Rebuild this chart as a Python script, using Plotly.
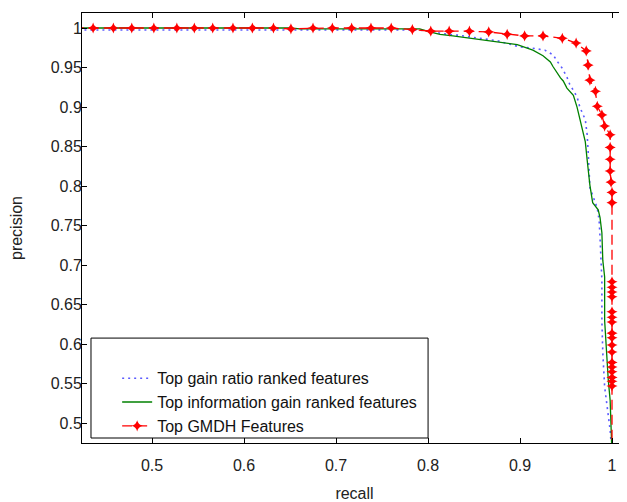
import plotly.graph_objects as go

# ---- data ----
gr_recall = [0.42, 0.791, 0.805, 0.821, 0.832, 0.846, 0.860, 0.875, 0.900, 0.911, 0.927, 0.936,
             0.941, 0.946, 0.951, 0.954, 0.962, 0.965, 0.971, 0.973, 0.974, 0.976, 0.984, 0.986,
             0.987, 0.988, 0.989, 0.989, 0.990, 0.992, 0.995, 0.998, 1.0]
gr_precision = [0.9975, 0.9975, 0.995, 0.992, 0.991, 0.989, 0.987, 0.984, 0.976, 0.975, 0.972, 0.966,
                0.957, 0.949, 0.938, 0.929, 0.913, 0.900, 0.884, 0.865, 0.846, 0.798, 0.772, 0.757,
                0.735, 0.703, 0.681, 0.630, 0.589, 0.546, 0.517, 0.491, 0.46]

ig_recall = [0.42, 0.65, 0.661, 0.77, 0.791, 0.802, 0.813, 0.827, 0.846, 0.864, 0.882, 0.897, 0.914,
             0.925, 0.933, 0.936, 0.944, 0.947, 0.951, 0.958, 0.962, 0.965, 0.969, 0.971, 0.973,
             0.976, 0.979, 0.985, 0.987, 0.989, 0.990, 0.992, 0.992, 0.995, 0.996, 0.998, 0.9995, 1.0]
ig_precision = [1.0, 1.0, 0.999, 0.999, 0.999, 0.995, 0.992, 0.990, 0.987, 0.985, 0.982, 0.979, 0.972,
                0.965, 0.957, 0.951, 0.937, 0.933, 0.924, 0.915, 0.900, 0.885, 0.866, 0.856, 0.833,
                0.801, 0.779, 0.770, 0.760, 0.741, 0.706, 0.685, 0.630, 0.571, 0.554, 0.529, 0.494, 0.46]

gmdh_recall = [0.415, 0.436, 0.458, 0.478, 0.502, 0.527, 0.546, 0.566, 0.588, 0.609, 0.632, 0.651,
               0.675, 0.696, 0.717, 0.738, 0.760, 0.783, 0.803, 0.823, 0.845, 0.866, 0.886, 0.905,
               0.925, 0.946, 0.961, 0.972, 0.974, 0.976, 0.982, 0.984, 0.989, 0.992, 0.998, 0.998,
               0.998, 0.998, 0.999, 1.0, 1.0,
               1.0, 1.0, 1.0, 1.0, 1.0, 1.0, 1.0, 1.0, 1.0, 1.0, 1.0, 1.0, 1.0, 1.0, 1.0, 1.0, 1.0,
               1.0]
gmdh_precision = [1.0, 1.0, 1.0, 1.0, 1.0, 1.0, 1.0, 1.0, 1.0, 1.0, 1.0, 0.999,
                  1.0, 1.0, 1.0, 1.0, 1.0, 0.998, 0.996, 0.996, 0.996, 0.995, 0.992, 0.990,
                  0.990, 0.987, 0.981, 0.971, 0.953, 0.934, 0.920, 0.901, 0.890, 0.876, 0.865, 0.849,
                  0.834, 0.819, 0.805, 0.792, 0.779,
                  0.679, 0.672, 0.666, 0.660, 0.641, 0.634, 0.628, 0.614, 0.608, 0.599, 0.590, 0.577,
                  0.571, 0.565, 0.558, 0.553, 0.547,
                  0.46]

x_ticks = [0.5, 0.6, 0.7, 0.8, 0.9, 1.0]
x_tick_labels = ["0.5", "0.6", "0.7", "0.8", "0.9", "1"]
y_ticks = [0.5, 0.55, 0.6, 0.65, 0.7, 0.75, 0.8, 0.85, 0.9, 0.95, 1.0]
y_tick_labels = ["0.5", "0.55", "0.6", "0.65", "0.7", "0.75", "0.8", "0.85", "0.9", "0.95", "1"]

FONT = "Liberation Sans, Arial, sans-serif"

fig = go.Figure()
fig.add_trace(go.Scatter(
    x=gr_recall, y=gr_precision, mode="lines", name="Top gain ratio ranked features",
    line=dict(color="#5a5aff", width=1.6, dash="2px,4px"), legendgroup="a"))
fig.add_trace(go.Scatter(
    x=ig_recall, y=ig_precision, mode="lines", name="Top information gain ranked features",
    line=dict(color="#008000", width=1.3), legendgroup="b"))
fig.add_trace(go.Scatter(
    x=gmdh_recall, y=gmdh_precision, mode="lines+markers", name="Top GMDH Features",
    line=dict(color="#ff0000", width=1.3, dash="10px,5px"),
    marker=dict(symbol="star-diamond", size=8, color="#ff0000"), legendgroup="c"))

# legend frame (box larger than the items, as in the reference)
fig.add_shape(type="rect", xref="paper", yref="paper", x0=0.0165, x1=0.635, y0=0.0116, y1=0.244,
              line=dict(color="black", width=1), fillcolor="white", layer="above")

axis_common = dict(showline=True, linecolor="black", linewidth=1, mirror="ticks",
                   ticks="inside", ticklen=5, tickcolor="black", showgrid=False, zeroline=False,
                   automargin=False, tickfont=dict(family=FONT, size=16, color="#222"))

# the page body adds an 8px offset, so the figure is 8px smaller than the window
fig.update_layout(
    width=619, height=494,
    margin=dict(l=74, r=0, t=5, b=59, autoexpand=False),
    paper_bgcolor="white", plot_bgcolor="white",
    font=dict(family=FONT, size=16, color="#222"),
    xaxis=dict(range=[0.4239, 1.0163], tickvals=x_ticks, ticktext=x_tick_labels,
               title=dict(text="recall", font=dict(size=16), standoff=14),
               ticklabelstandoff=8, **axis_common),
    yaxis=dict(range=[0.475, 1.019], tickvals=y_ticks, ticktext=y_tick_labels,
               title=dict(text="precision", font=dict(size=16), standoff=25),
               ticklabelstandoff=-4, **axis_common),
    legend=dict(x=0.0645, y=0.19, xanchor="left", yanchor="top", bgcolor="rgba(0,0,0,0)",
                borderwidth=0, font=dict(family=FONT, size=16, color="#111"),
                traceorder="grouped", tracegroupgap=0),
    showlegend=True,
)

fig.write_html("out.html")
